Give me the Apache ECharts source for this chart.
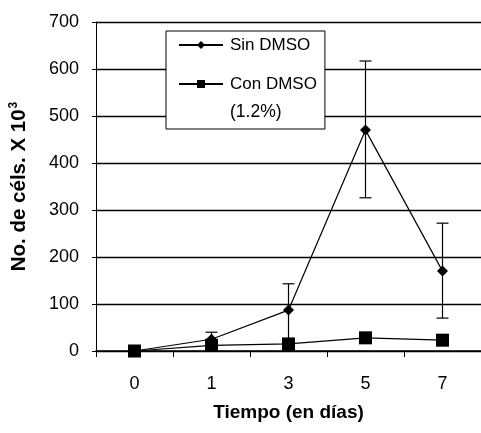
<!DOCTYPE html>
<html><head><meta charset="utf-8">
<script src="https://cdn.jsdelivr.net/npm/echarts@6/dist/echarts.min.js"></script>
<style>html,body{margin:0;padding:0;background:#fff}#c{width:481px;height:433px}</style>
</head><body><div id="c"></div>
<script>
const days = ['0','1','3','5','7'];
const sinDMSO = [0, 25, 87, 470, 170];
const sinLow = [0, 10, 0, 326, 70];
const sinHigh = [0, 40, 143, 617, 272];
const conDMSO = [0, 12, 15, 28, 23];
const yTicks = [0, 100, 200, 300, 400, 500, 600, 700];

const font = 'Liberation Sans, Arial, sans-serif';
const chart = echarts.init(document.getElementById('c'));
const errData = days.map((d, i) => [i, sinLow[i], sinHigh[i]]);
chart.setOption({
  animation: false,
  backgroundColor: '#fff',
  grid: { left: 96, right: -5, top: 22, bottom: 82 },
  legend: {
    orient: 'vertical', left: 166, top: 31,
    backgroundColor: '#fff', borderColor: '#000', borderWidth: 1,
    padding: [3, 8, 34, 12], itemGap: 17, itemWidth: 44, itemHeight: 10,
    data: ['Sin DMSO', 'Con DMSO'],
    textStyle: { fontFamily: font, fontSize: 17, color: '#000', lineHeight: 22, padding: [0,0,0,2] }
  },
  graphic: [{
    type: 'text', left: 230, top: 103, z: 100,
    style: { text: '(1.2%)', font: '17.5px Liberation Sans, Arial, sans-serif', fill: '#000' }
  }],
  xAxis: {
    type: 'category', data: days, boundaryGap: true,
    axisLine: { lineStyle: { color: '#000', width: 1.5 } },
    axisTick: { show: true, length: 6, lineStyle: { color: '#000' } },
    axisLabel: { fontFamily: font, fontSize: 18, color: '#000', margin: 24 },
    name: 'Tiempo (en días)', nameLocation: 'middle', nameGap: 52,
    nameTextStyle: { fontFamily: font, fontSize: 19, fontWeight: 'bold', color: '#000' }
  },
  yAxis: {
    type: 'value', min: 0, max: 700, interval: 100,
    axisLine: { show: true, lineStyle: { color: '#000', width: 1 } },
    axisTick: { show: true, length: 4, lineStyle: { color: '#000' } },
    splitLine: { lineStyle: { color: '#000', width: 1.3 } },
    axisLabel: { fontFamily: font, fontSize: 18, color: '#000', margin: 17,
      formatter: v => yTicks.includes(v) ? String(v) : '' },
    name: '{a|No. de céls. X 10}{s|3}', nameLocation: 'middle', nameGap: 65, nameRotate: 90,
    nameTextStyle: { rich: {
      a: { fontFamily: font, fontSize: 20.5, fontWeight: 'bold', color: '#000' },
      s: { fontFamily: font, fontSize: 12, fontWeight: 'bold', color: '#000', verticalAlign: 'top', padding: [0,0,11,1] }
    } }
  },
  series: [
    { name: 'Sin DMSO', type: 'line', data: sinDMSO, symbol: 'diamond', symbolSize: 11,
      itemStyle: { color: '#000' }, lineStyle: { color: '#000', width: 1.2 }, z: 3 },
    { name: 'Con DMSO', type: 'line', data: conDMSO, symbol: 'rect', symbolSize: 13,
      itemStyle: { color: '#000' }, lineStyle: { color: '#000', width: 1.2 }, z: 3 },
    { name: 'err', type: 'custom', data: errData, z: 4,
      renderItem: (params, api) => {
        const x = api.value(0);
        const lo = api.coord([x, api.value(1)]);
        const hi = api.coord([x, api.value(2)]);
        const w = 6;
        const st = { stroke: '#000', lineWidth: 1.2 };
        return { type: 'group', children: [
          { type: 'line', shape: { x1: lo[0], y1: lo[1], x2: hi[0], y2: hi[1] }, style: st },
          { type: 'line', shape: { x1: hi[0]-w, y1: hi[1], x2: hi[0]+w, y2: hi[1] }, style: st },
          { type: 'line', shape: { x1: lo[0]-w, y1: lo[1], x2: lo[0]+w, y2: lo[1] }, style: st }
        ]};
      } }
  ]
});
</script></body></html>
